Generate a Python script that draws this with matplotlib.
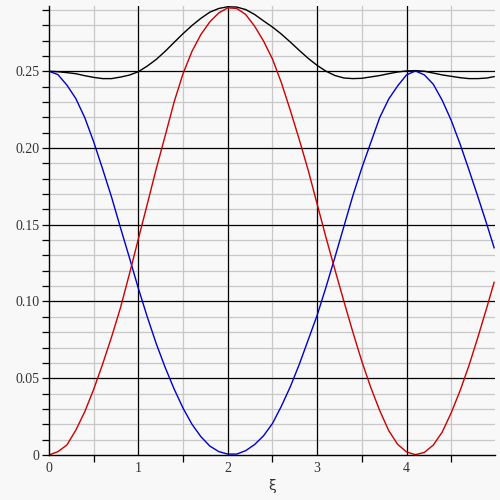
import numpy as np
import matplotlib
matplotlib.use("Agg")
import matplotlib.pyplot as plt
from matplotlib.ticker import MultipleLocator

# sample positions along xi (step 0.1, last point at the plot edge)
xi = [0.0, 0.1, 0.2, 0.3, 0.4, 0.5, 0.6, 0.7, 0.8, 0.9,
      1.0, 1.1, 1.2, 1.3, 1.4, 1.5, 1.6, 1.7, 1.8, 1.9,
      2.0, 2.1, 2.2, 2.3, 2.4, 2.5, 2.6, 2.7, 2.8, 2.9,
      3.0, 3.1, 3.2, 3.3, 3.4, 3.5, 3.6, 3.7, 3.8, 3.9,
      4.0, 4.1, 4.2, 4.3, 4.4, 4.5, 4.6, 4.7, 4.8, 4.9, 4.98]

blue = [0.2500, 0.2478, 0.2410, 0.2322, 0.2198, 0.2040, 0.1863, 0.1680, 0.1480, 0.1285,
        0.1085, 0.0899, 0.0725, 0.0570, 0.0430, 0.0305, 0.0200, 0.0119, 0.0058, 0.0022,
        0.0006, 0.0006, 0.0028, 0.0068, 0.0125, 0.0205, 0.0318, 0.0445, 0.0590, 0.0750,
        0.0910, 0.1095, 0.1290, 0.1490, 0.1690, 0.1870, 0.2035, 0.2198, 0.2318, 0.2404,
        0.2476, 0.2502, 0.2476, 0.2415, 0.2310, 0.2180, 0.2025, 0.1855, 0.1680, 0.1500, 0.1350]

red = [0.0000, 0.0022, 0.0065, 0.0162, 0.0282, 0.0428, 0.0592, 0.0769, 0.0960, 0.1180,
       0.1408, 0.1635, 0.1865, 0.2080, 0.2300, 0.2485, 0.2630, 0.2740, 0.2822, 0.2880,
       0.2913, 0.2909, 0.2870, 0.2794, 0.2697, 0.2580, 0.2425, 0.2245, 0.2055, 0.1855,
       0.1635, 0.1415, 0.1205, 0.1000, 0.0800, 0.0610, 0.0440, 0.0290, 0.0160, 0.0070,
       0.0020, 0.0002, 0.0017, 0.0065, 0.0150, 0.0275, 0.0420, 0.0585, 0.0770, 0.0964, 0.1125]

black = [0.2500, 0.2497, 0.2491, 0.2484, 0.2471, 0.2460, 0.2452, 0.2452, 0.2462, 0.2475,
         0.2497, 0.2534, 0.2577, 0.2630, 0.2688, 0.2745, 0.2798, 0.2845, 0.2885, 0.2909,
         0.2920, 0.2918, 0.2902, 0.2870, 0.2828, 0.2788, 0.2742, 0.2690, 0.2636, 0.2584,
         0.2538, 0.2500, 0.2472, 0.2456, 0.2452, 0.2454, 0.2463, 0.2472, 0.2484, 0.2495,
         0.2502, 0.2504, 0.2500, 0.2488, 0.2476, 0.2467, 0.2458, 0.2452, 0.2452, 0.2456, 0.2465]

ytick_vals = [0, 0.05, 0.10, 0.15, 0.20, 0.25]
ytick_text = ["0", "0.05", "0.10", "0.15", "0.20", "0.25"]
xtick_vals = [0, 1, 2, 3, 4]

bg = "#f8f8f8"
fig = plt.figure(figsize=(5, 5), dpi=100, facecolor=bg)
ax = fig.add_axes([0.098, 0.09, 0.892, 0.898], facecolor=bg)

xmax, ymax = 4.99, 0.2925
ax.set_xlim(0, xmax)
ax.set_ylim(0, ymax)

# grid: grey minor lines first, black major lines over them
for gx in np.arange(0.5, xmax, 1.0):
    ax.axvline(gx, color="#c8c8c8", lw=0.9, zorder=0)
for gy in np.arange(0.01, ymax, 0.01):
    if abs(gy / 0.05 - round(gy / 0.05)) > 1e-6:
        ax.axhline(gy, color="#c8c8c8", lw=0.9, zorder=0)
for gx in xtick_vals[1:]:
    ax.axvline(gx, color="black", lw=0.9, zorder=1)
for gy in ytick_vals[1:]:
    ax.axhline(gy, color="black", lw=0.9, zorder=1)

ax.plot(xi, black, color="black", lw=1.0, zorder=3)
ax.plot(xi, blue, color="#0000cc", lw=1.0, zorder=3)
ax.plot(xi, red, color="#cc0000", lw=1.0, zorder=3)

ax.set_xticks(xtick_vals)
ax.set_xticklabels([str(v) for v in xtick_vals])
ax.xaxis.set_minor_locator(MultipleLocator(0.5))
ax.set_yticks(ytick_vals)
ax.set_yticklabels(ytick_text)
ax.yaxis.set_minor_locator(MultipleLocator(0.01))

for lab in ax.get_xticklabels() + ax.get_yticklabels():
    lab.set_fontfamily("Liberation Serif")
    lab.set_fontsize(10)
    lab.set_color("#333333")

ax.tick_params(which="both", length=5, width=0.9, color="black", direction="out", pad=2)
ax.tick_params(axis="x", which="major", length=0, pad=5)

for s in ["top", "right"]:
    ax.spines[s].set_visible(False)
for s in ["left", "bottom"]:
    ax.spines[s].set_linewidth(1.0)
    ax.spines[s].set_zorder(4)

ax.set_xlabel("ξ", fontsize=10, family="DejaVu Sans", color="#333333", labelpad=3)

fig.savefig("out.png", dpi=100, facecolor=bg)
